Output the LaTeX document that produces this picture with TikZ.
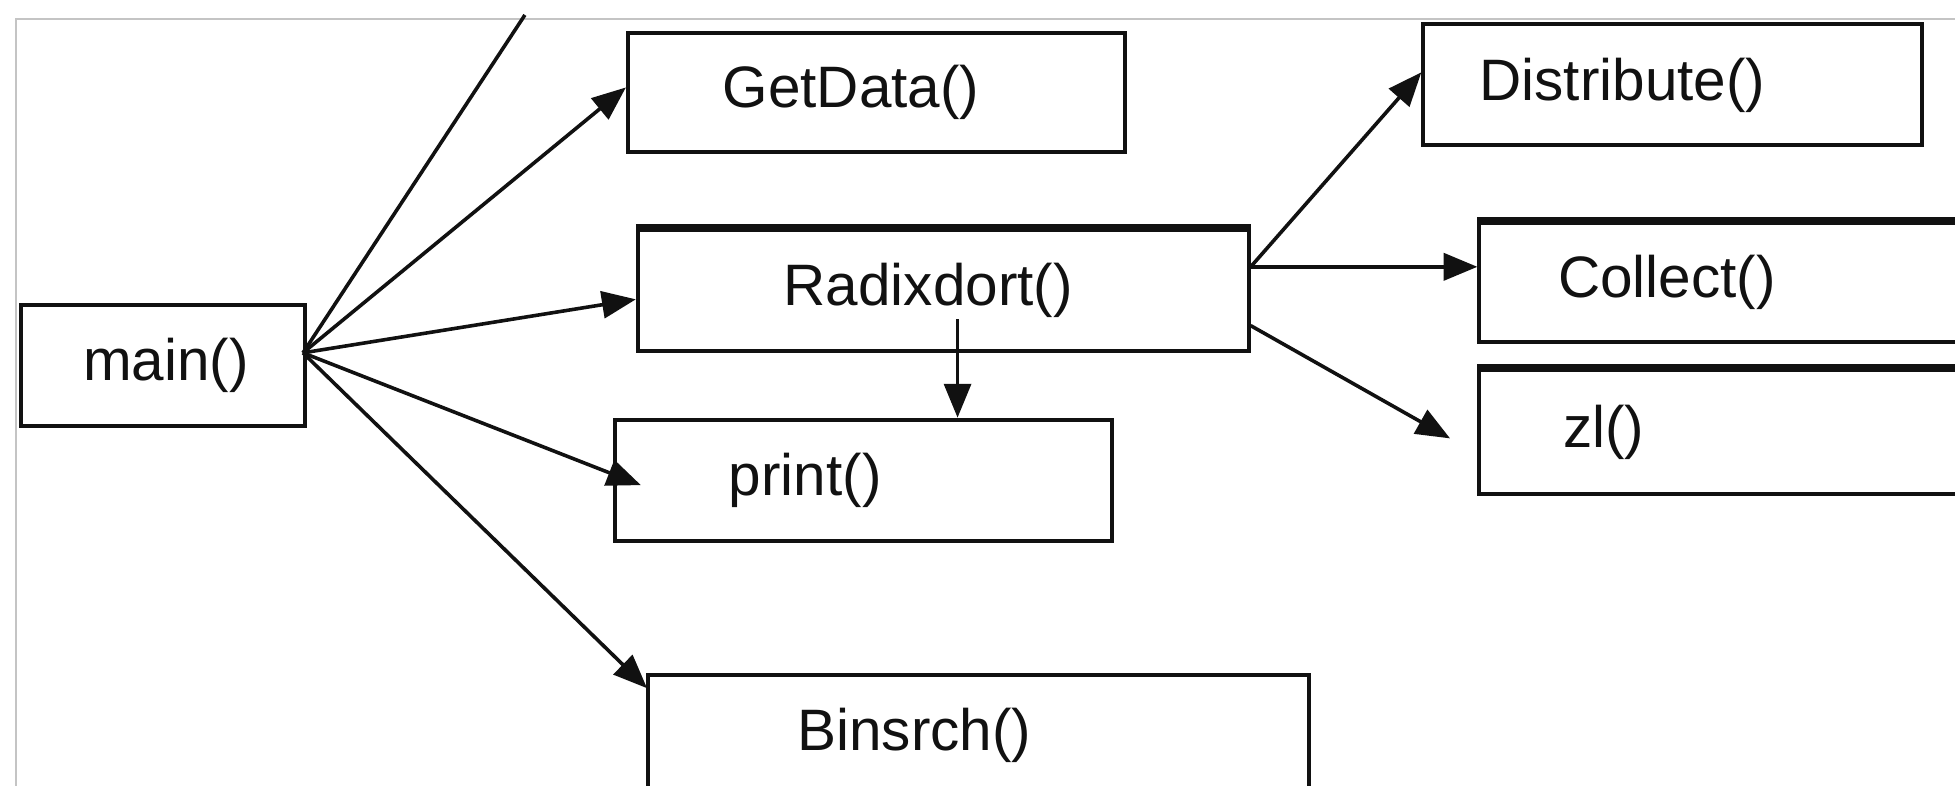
\documentclass[tikz,border=0pt]{standalone}
\usepackage{fontspec}
\setmainfont{Liberation Sans}
\usepackage{tikz}
\usetikzlibrary{arrows.meta,calc}
\definecolor{CallInk}{HTML}{111111}
\definecolor{FrameGray}{HTML}{C4C4C4}
\tikzset{
  calltext/.style={font=\fontsize{29.3}{35}\selectfont, text=CallInk},
  callbox/.style={draw=CallInk, line width=2pt, fill=white, anchor=north west, align=left, inner ysep=0pt, calltext},
  calltop/.style={draw=CallInk, line width=3.8pt},
  callarrow/.style={-{Triangle[length=17pt,width=13.5pt]}, line width=1.8pt, draw=CallInk},
  callline/.style={line width=1.8pt, draw=CallInk},
  framerule/.style={draw=FrameGray, line width=1pt}
}

\begin{document}
\begin{tikzpicture}[x=0.625pt, y=-0.625pt]
\useasboundingbox (0,0) rectangle (1568,630);
\clip (0,0) rectangle (1568,630);
\draw[framerule] (13,640) -- (13,15) -- (1580,15);
% call boxes
\node[callbox, minimum height=60.6pt, inner xsep=31.25pt, text width=80pt] (main) at (15,243) {main()};
\node[callbox, minimum height=59.4pt, inner xsep=47.5pt, text width=154pt] (getdata) at (502,25) {GetData()};
\node[callbox, minimum height=60.6pt, inner xsep=73.1pt, text width=160pt] (radix) at (510,183) {Radixdort()};
\node[callbox, minimum height=60.6pt, inner xsep=56.9pt, text width=135pt] (print) at (492,335) {print()};
\node[callbox, minimum height=60pt, inner xsep=75pt, text width=181.25pt] (binsrch) at (518,540) {Binsrch()};
\node[callbox, minimum height=60.6pt, inner xsep=28.1pt, text width=193.75pt] (distribute) at (1140,18) {Distribute()};
\node[callbox, minimum height=60pt, inner xsep=39.4pt, text width=183.75pt] (collect) at (1185,177) {Collect()};
\node[callbox, minimum height=62.5pt, inner xsep=41.9pt, text width=178.75pt] (zl) at (1185,295) {zl()};
\draw[calltop] (radix.north west) -- (radix.north east);
\draw[calltop] (collect.north west) -- (collect.north east);
\draw[calltop] (zl.north west) -- (zl.north east);
% connectors
\coordinate (hub) at (243,283);
\coordinate (offtop) at (421,12);
\coordinate (rdown) at (768,256);
\coordinate (rhigh) at ($(radix.north east)+(0,31)$);
\coordinate (rlow) at ($(radix.south east)+(0,-22)$);
\coordinate (zltip) at ($(zl.west)+(-22,5)$);
\draw[callline] (hub) -- (offtop);
\draw[callarrow] (hub) -- ($(getdata.west)+(0,-4)$);
\draw[callarrow] (hub) -- ($(radix.west)+(0,7)$);
\draw[callarrow] (hub) -- ($(print.west)+(22,4)$);
\draw[callarrow] (hub) -- ($(binsrch.north west)+(1,12)$);
\draw[callarrow] (rdown) -- (rdown |- print.north);
\draw[callarrow] (rhigh) -- ($(distribute.north west)+(0,40)$);
\draw[callarrow, line width=2.2pt] (rhigh) -- (rhigh -| collect.west);
\draw[callarrow] (rlow) -- (zltip);
\end{tikzpicture}
\end{document}
